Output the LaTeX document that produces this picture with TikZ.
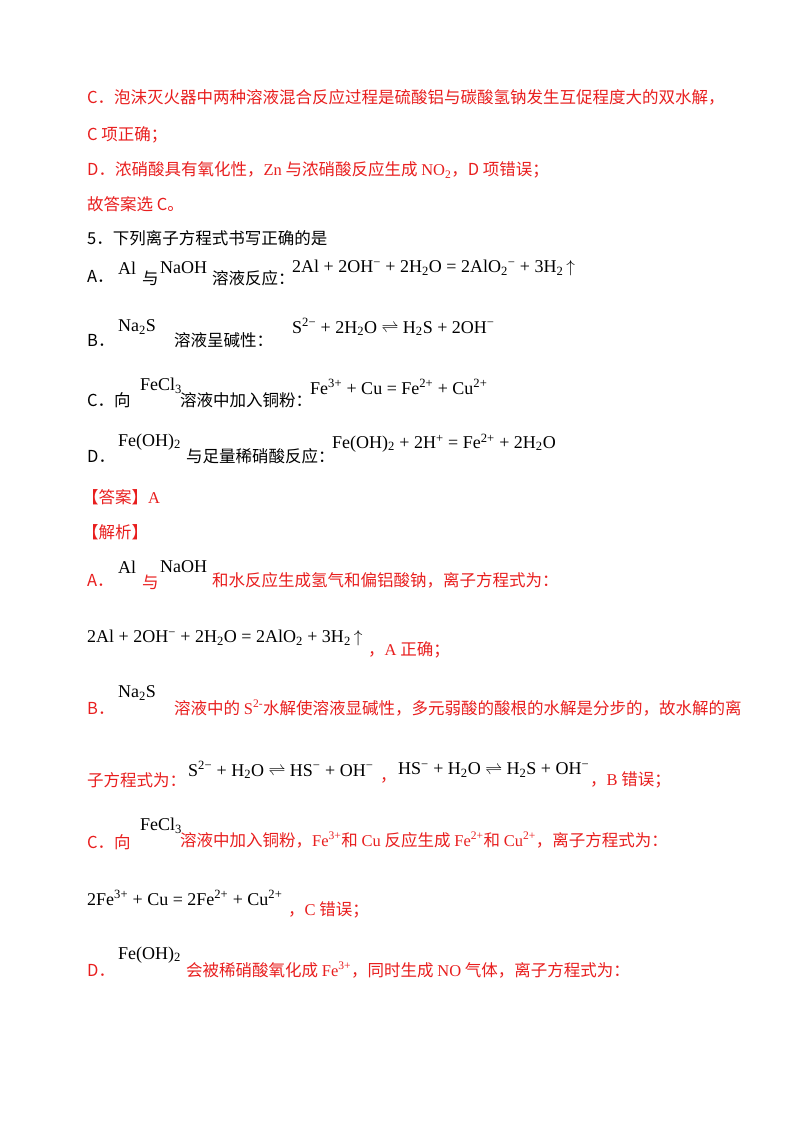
\documentclass[tikz,border=0pt]{standalone}
\usepackage{fontspec}
\setmainfont{Liberation Serif}
\newfontfamily\cjk{Noto Sans CJK SC}
\newfontfamily\tm{Liberation Serif}
\definecolor{rd}{RGB}{232,30,30}
\newcommand{\sbb}[1]{\textsubscript{#1}}
\newcommand{\spp}[1]{\textsuperscript{#1}}
\newcommand{\eqq}{$\rightleftharpoons$}
\begin{document}
\begin{tikzpicture}[x=1pt,y=-1pt,
  t/.style={anchor=west,inner sep=0pt,font=\fontsize{16.5}{20}\selectfont\cjk},
  r/.style={t,text=rd},
  k/.style={t,text=black},
  e/.style={anchor=west,inner sep=0pt,font=\fontsize{18}{22}\selectfont\tm,text=black}]
\useasboundingbox (0,0) rectangle (800,1129);
\node[r] (l1) at (87,97) {C．泡沫灭火器中两种溶液混合反应过程是硫酸铝与碳酸氢钠发生互促程度大的双水解，};
\node[r] (l2) at (87,135) {C 项正确；};
\node[r] (l3) at (87,170) {D．浓硝酸具有氧化性，{\tm Zn} 与浓硝酸反应生成 {\tm NO\sbb{2}}，D 项错误；};
\node[r] (l4) at (87,204) {故答案选 C。};
\node[k] (q) at (87,238) {5．下列离子方程式书写正确的是};
\node[k] (qa) at (87,276) {A．};
\node[e] (qa1) at (118,268) {Al};
\node[k] (qa2) at (142,278) {与};
\node[e] (qa3) at (160,268) {NaOH};
\node[k] (qa4) at (212,278) {溶液反应：};
\node[e] (qa5) at (292,268) {2Al + 2OH\spp{−} + 2H\sbb{2}O = 2AlO\sbb{2}\spp{−} + 3H\sbb{2}\,$\uparrow$};
\node[k] (qb) at (87,340) {B．};
\node[e] (qb1) at (118,327) {Na\sbb{2}S};
\node[k] (qb2) at (174,340) {溶液呈碱性：};
\node[e] (qb3) at (292,327) {S\spp{2−} + 2H\sbb{2}O \eqq{} H\sbb{2}S + 2OH\spp{−}};
\node[k] (qc) at (87,400) {C．向};
\node[e] (qc1) at (140,386) {FeCl\sbb{3}};
\node[k] (qc2) at (180,400) {溶液中加入铜粉：};
\node[e] (qc3) at (310,387) {Fe\spp{3+} + Cu = Fe\spp{2+} + Cu\spp{2+}};
\node[k] (qd) at (87,456) {D．};
\node[e] (qd1) at (118,442) {Fe(OH)\sbb{2}};
\node[k] (qd2) at (186,456) {与足量稀硝酸反应：};
\node[e] (qd3) at (332,443) {Fe(OH)\sbb{2} + 2H\spp{+} = Fe\spp{2+} + 2H\sbb{2}O};
\node[r] (ans) at (82,497) {【答案】{\tm A}};
\node[r] (jx) at (82,532) {【解析】};
\node[r] (ja) at (87,580) {A．};
\node[e] (ja1) at (118,567) {Al};
\node[r] (ja2) at (142,582) {与};
\node[e] (ja3) at (160,567) {NaOH};
\node[r] (ja4) at (212,580) {和水反应生成氢气和偏铝酸钠，离子方程式为：};
\node[e] (ea) at (87,638) {2Al + 2OH\spp{−} + 2H\sbb{2}O = 2AlO\sbb{2} + 3H\sbb{2}\,$\uparrow$};
\node[r] (ea2) at (368,650) {，{\tm A} 正确；};
\node[r] (jb) at (87,708) {B．};
\node[e] (jb1) at (118,693) {Na\sbb{2}S};
\node[r] (jb2) at (174,708) {溶液中的 {\tm S\spp{2-}}水解使溶液显碱性，多元弱酸的酸根的水解是分步的，故水解的离};
\node[r] (jb3) at (87,780) {子方程式为：};
\node[e] (eb1) at (188,770) {S\spp{2−} + H\sbb{2}O \eqq{} HS\spp{−} + OH\spp{−}};
\node[r] (eb2) at (380,780) {，};
\node[e] (eb3) at (398,770) {HS\spp{−} + H\sbb{2}O \eqq{} H\sbb{2}S + OH\spp{−}};
\node[r] (eb4) at (590,780) {，{\tm B} 错误；};
\node[r] (jc) at (87,842) {C．向};
\node[e] (jc1) at (140,826) {FeCl\sbb{3}};
\node[r] (jc2) at (180,840) {溶液中加入铜粉，{\tm Fe\spp{3+}}和 {\tm Cu} 反应生成 {\tm Fe\spp{2+}}和 {\tm Cu\spp{2+}}，离子方程式为：};
\node[e] (ec) at (87,898) {2Fe\spp{3+} + Cu = 2Fe\spp{2+} + Cu\spp{2+}};
\node[r] (ec2) at (288,910) {，{\tm C} 错误；};
\node[r] (jd) at (87,970) {D．};
\node[e] (jd1) at (118,955) {Fe(OH)\sbb{2}};
\node[r] (jd2) at (186,970) {会被稀硝酸氧化成 {\tm Fe\spp{3+}}，同时生成 {\tm NO} 气体，离子方程式为：};
\end{tikzpicture}
\end{document}
